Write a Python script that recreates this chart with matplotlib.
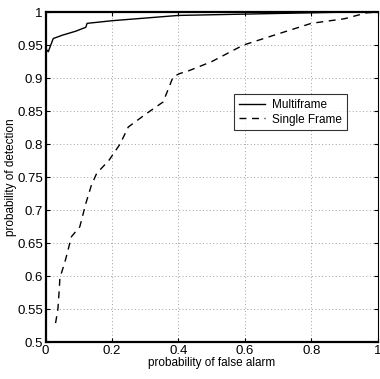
import matplotlib
matplotlib.use("Agg")
import matplotlib.pyplot as plt

plt.rcParams['font.family'] = ['Liberation Sans', 'DejaVu Sans']

# multiframe curve
multi_pfa = [0.0, 0.008, 0.023, 0.05, 0.09, 0.121, 0.125, 0.2, 0.3, 0.4, 0.5, 0.6, 0.7, 0.8, 0.9, 1.0]
multi_pd = [0.945, 0.94, 0.96, 0.965, 0.971, 0.977, 0.983, 0.987, 0.991, 0.995, 0.996, 0.997, 0.998, 0.999, 1.0, 1.0]

# single frame curve
single_pfa = [0.03, 0.037, 0.041, 0.043, 0.06, 0.078, 0.103, 0.121, 0.138, 0.154, 0.19, 0.224, 0.249,
              0.3, 0.354, 0.384, 0.404, 0.43, 0.5, 0.595, 0.7, 0.8, 0.9, 0.967, 1.0]
single_pd = [0.529, 0.55, 0.579, 0.597, 0.625, 0.66, 0.675, 0.71, 0.738, 0.756, 0.775, 0.80, 0.826,
             0.845, 0.864, 0.902, 0.907, 0.911, 0.925, 0.95, 0.967, 0.983, 0.99, 0.999, 1.0]

fig = plt.figure(figsize=(3.8, 3.79), dpi=100)
ax = fig.add_axes([0.12, 0.097, 0.874, 0.871])

ax.plot(multi_pfa, multi_pd, color="black", lw=1.0, label="Multiframe")
ax.plot(single_pfa, single_pd, color="black", lw=1.0, ls=(0, (5, 4)), label="Single Frame")

ax.set_xlim(0, 1)
ax.set_ylim(0.5, 1)
ax.set_xticks([0, 0.2, 0.4, 0.6, 0.8, 1])
ax.set_xticklabels(["0", "0.2", "0.4", "0.6", "0.8", "1"])
ax.set_yticks([0.5, 0.55, 0.6, 0.65, 0.7, 0.75, 0.8, 0.85, 0.9, 0.95, 1])
ax.set_yticklabels(["0.5", "0.55", "0.6", "0.65", "0.7", "0.75", "0.8", "0.85", "0.9", "0.95", "1"])
ax.grid(True, ls=(0, (1, 2.5)), color="#a0a0a0", lw=0.7)
ax.tick_params(direction="in", top=True, right=True, labelsize=9.5, length=3, pad=2)
for s in ["left", "bottom", "top"]:
    ax.spines[s].set_linewidth(1.6)
ax.spines["right"].set_linewidth(0.8)

ax.set_xlabel("probability of false alarm", fontsize=8.5, labelpad=0)
ax.set_ylabel("probability of detection", fontsize=8.5, labelpad=0)

leg = ax.legend(loc="upper left", bbox_to_anchor=(0.55, 0.77), fontsize=8.5, frameon=True,
                fancybox=False, edgecolor="black", handlelength=2.2, borderpad=0.4,
                labelspacing=0.25, handletextpad=0.6)
leg.get_frame().set_linewidth(0.8)

fig.savefig("out.png", dpi=100)
